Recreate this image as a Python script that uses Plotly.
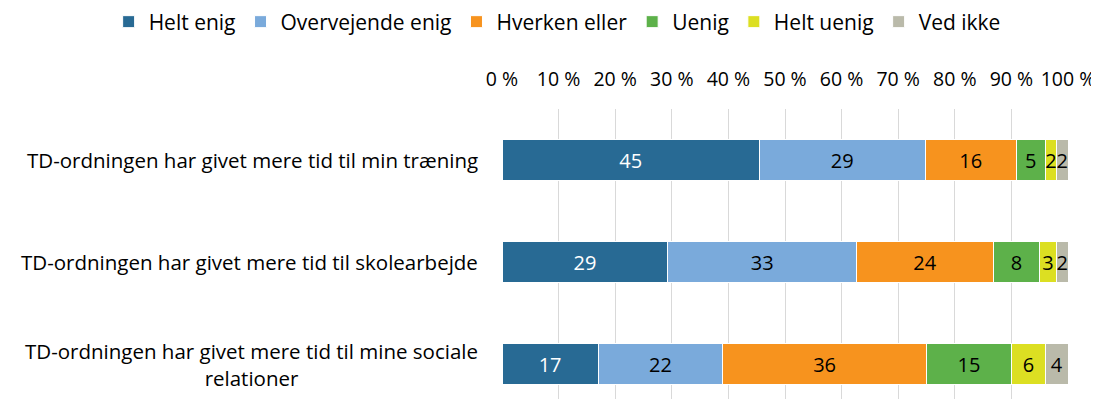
import plotly.graph_objects as go

categories = [
    "TD-ordningen har givet mere tid til min træning",
    "TD-ordningen har givet mere tid til skolearbejde",
    "TD-ordningen har givet mere tid til mine sociale<br>relationer",
]
series_names = ["Helt enig", "Overvejende enig", "Hverken eller", "Uenig", "Helt uenig", "Ved ikke"]
helt_enig = [45, 29, 17]
overvejende_enig = [29, 33, 22]
hverken_eller = [16, 24, 36]
uenig = [5, 8, 15]
helt_uenig = [2, 3, 6]
ved_ikke = [2, 2, 4]
series_values = [helt_enig, overvejende_enig, hverken_eller, uenig, helt_uenig, ved_ikke]
colors = ["#286A94", "#7AAADB", "#F7931E", "#5DB14A", "#DCDF22", "#BABAAA"]
text_colors = ["white", "black", "black", "black", "black", "black"]
tick_vals = [0, 10, 20, 30, 40, 50, 60, 70, 80, 90, 100]
tick_text = [f"{v} %" for v in tick_vals]

FONT = "Open Sans"
y_idx = list(range(len(categories)))

fig = go.Figure()
for name, vals, col, tcol in zip(series_names, series_values, colors, text_colors):
    fig.add_trace(go.Bar(
        name=name, y=y_idx, x=vals, orientation="h",
        marker=dict(color=col, line=dict(color="white", width=1)),
        text=[str(v) for v in vals], textposition="inside",
        insidetextanchor="middle", textangle=0,
        textfont=dict(color=tcol, size=20, family=FONT),
        width=0.4, hoverinfo="skip",
    ))

for i, c in enumerate(categories):
    fig.add_annotation(
        x=0, xref="paper", y=i, yref="y", text=c, showarrow=False,
        xanchor="right", xshift=-22, align="center",
        font=dict(size=20.5, family=FONT, color="black"),
    )

# page body has an 8px margin: figure coordinates are reference minus 8px;
# keep the page height within the window so no scrollbar appears
fig.update_layout(
    barmode="stack", barnorm="percent",
    width=1091, height=391,
    margin=dict(l=494, r=31, t=101, b=0, autoexpand=False),
    paper_bgcolor="white", plot_bgcolor="white",
    font=dict(family=FONT, size=20, color="black"),
    uniformtext=dict(minsize=20, mode="show"),
    legend=dict(orientation="h", xref="paper", yref="paper",
                x=-0.695, y=1 + 87 / 290, xanchor="left", yanchor="middle",
                font=dict(size=21, family=FONT), traceorder="normal",
                itemwidth=30),
    showlegend=True,
)
fig.update_xaxes(
    side="top", range=[0, 100], tickvals=tick_vals, ticktext=tick_text,
    showgrid=True, gridcolor="#D9D9D9", gridwidth=1, zeroline=False,
    showline=False, ticks="outside", ticklen=14, tickcolor="rgba(0,0,0,0)",
    tickfont=dict(size=19.5, family=FONT),
)
fig.update_yaxes(
    range=[-0.5 + 290 / 102, -0.5], showticklabels=False, showgrid=False,
    zeroline=False, showline=False,
)
fig.write_html("out.html")
